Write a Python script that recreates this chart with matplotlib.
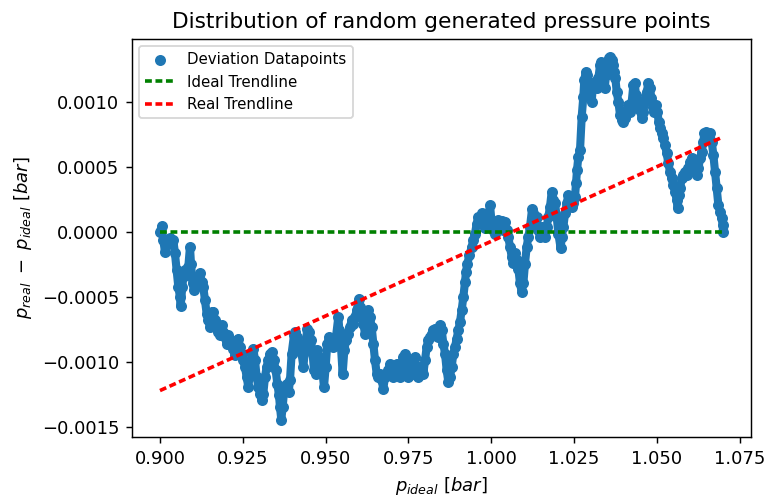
import numpy as np
import matplotlib
matplotlib.use("Agg")
import matplotlib.pyplot as plt

# values (deviation in units of 1e-4 bar)
p_ideal = [
    0.90000, 0.90050, 0.90101, 0.90151, 0.90221, 0.90302, 0.90352, 0.90403, 0.90453, 0.90503,
    0.90554, 0.90604, 0.90624, 0.90674, 0.90705, 0.90755, 0.90805, 0.90856, 0.90906, 0.90936,
    0.90986, 0.91027, 0.91087, 0.91157, 0.91208, 0.91258, 0.91308, 0.91359, 0.91409, 0.91459,
    0.91510, 0.91560, 0.91610, 0.91661, 0.91711, 0.91761, 0.91812, 0.91862, 0.91912, 0.91963,
    0.92013, 0.92063, 0.92113, 0.92164, 0.92214, 0.92264, 0.92315, 0.92365, 0.92415, 0.92466,
    0.92516, 0.92566, 0.92617, 0.92667, 0.92717, 0.92768, 0.92818, 0.92868, 0.92919, 0.92969,
    0.93019, 0.93070, 0.93120, 0.93170, 0.93221, 0.93271, 0.93321, 0.93392, 0.93442, 0.93492,
    0.93543, 0.93593, 0.93623, 0.93663, 0.93704, 0.93744, 0.93794, 0.93845, 0.93885,
    0.93925, 0.93975, 0.94046, 0.94076, 0.94127, 0.94207, 0.94277, 0.94328, 0.94378, 0.94448,
    0.94509, 0.94559, 0.94609, 0.94650, 0.94710, 0.94750, 0.94801, 0.94851, 0.94901, 0.94952,
    0.95002, 0.95052, 0.95103, 0.95153, 0.95213, 0.95264, 0.95314, 0.95385, 0.95415, 0.95465,
    0.95515, 0.95566, 0.95616, 0.95666, 0.95737, 0.95787, 0.95837, 0.95888, 0.95938, 0.96008,
    0.96039, 0.96089, 0.96139, 0.96190, 0.96240, 0.96290, 0.96341, 0.96391, 0.96441, 0.96492,
    0.96542, 0.96592, 0.96643, 0.96693, 0.96743, 0.96794, 0.96844, 0.96894, 0.96945, 0.96995,
    0.97045, 0.97096, 0.97146, 0.97196, 0.97247, 0.97297, 0.97347, 0.97397, 0.97448, 0.97498,
    0.97548, 0.97599, 0.97649, 0.97699, 0.97750, 0.97800, 0.97850, 0.97901, 0.97951, 0.98001,
    0.98052, 0.98102, 0.98152, 0.98203, 0.98253, 0.98303, 0.98354, 0.98404, 0.98454, 0.98505,
    0.98555, 0.98605, 0.98656, 0.98706,
    0.98756, 0.98806, 0.98857, 0.98907, 0.98958, 0.99008, 0.99058, 0.99108, 0.99159, 0.99209,
    0.99239, 0.99280, 0.99340, 0.99411, 0.99461, 0.99511, 0.99562, 0.99612, 0.99662, 0.99713,
    0.99763, 0.99813, 0.99863, 0.99914, 0.99964, 1.00014, 1.00064, 1.00115, 1.00165, 1.00215,
    1.00266, 1.00316, 1.00366, 1.00417, 1.00467, 1.00517, 1.00568, 1.00618, 1.00668, 1.00719,
    1.00769, 1.00819, 1.00870, 1.00920, 1.00970, 1.01020, 1.01071, 1.01121, 1.01171, 1.01232,
    1.01272, 1.01322, 1.01373, 1.01423, 1.01473, 1.01524, 1.01574, 1.01624, 1.01675, 1.01725,
    1.01775, 1.01826, 1.01876, 1.01926, 1.01977, 1.02027, 1.02097, 1.02128, 1.02178, 1.02228,
    1.02278, 1.02329, 1.02379, 1.02429, 1.02480, 1.02530, 1.02560, 1.02590, 1.02631, 1.02681,
    1.02732, 1.02781, 1.02811, 1.02853,
    1.02903, 1.02933, 1.02983, 1.03033, 1.03064, 1.03104, 1.03144, 1.03185, 1.03235, 1.03285,
    1.03315, 1.03346, 1.03386, 1.03426, 1.03466, 1.03507, 1.03547, 1.03587, 1.03638, 1.03688,
    1.03718, 1.03748, 1.03789, 1.03839, 1.03889, 1.03940, 1.03970, 1.04010, 1.04050, 1.04091,
    1.04141, 1.04191, 1.04242, 1.04292, 1.04332, 1.04372, 1.04412, 1.04453, 1.04493, 1.04543,
    1.04594, 1.04644, 1.04694, 1.04745, 1.04795, 1.04835, 1.04875, 1.04916, 1.04976, 1.05016,
    1.05056, 1.05097, 1.05147, 1.05197, 1.05247, 1.05298, 1.05348, 1.05398, 1.05449, 1.05499,
    1.05549, 1.05600, 1.05630, 1.05660, 1.05700, 1.05751, 1.05801, 1.05851, 1.05902, 1.05952,
    1.06002, 1.06053, 1.06103, 1.06153, 1.06204, 1.06254, 1.06304, 1.06354, 1.06405, 1.06435,
    1.06475, 1.06506, 1.06556, 1.06606, 1.06657, 1.06707, 1.06757, 1.06808, 1.06858, 1.06908,
    1.06959, 1.06990, 1.07000,
]
deviation_e4 = [
    0.00, 0.44, -0.64, -1.54, -0.64, -0.51, -0.90, -0.64, -1.66, -2.95,
    -4.23, -5.00, -5.72, -4.23, -3.46, -2.95, -3.34, -2.69, -1.15, -2.44,
    -3.97, -4.49, -3.72, -3.46, -3.15, -3.85, -4.23, -5.25, -6.28, -6.79,
    -7.31, -6.15, -6.15, -6.79, -7.31, -7.69, -7.95, -7.18, -7.69, -8.08,
    -8.59, -7.95, -8.33, -8.72, -8.97, -9.49, -8.59, -8.21, -8.85, -9.36,
    -9.87, -10.38, -11.15, -11.92, -10.90, -9.36, -8.97, -9.87, -11.15, -11.92,
    -12.43, -12.95, -12.43, -11.15, -10.38, -9.87, -9.36, -9.23, -9.87, -10.64,
    -11.66, -12.56, -13.46, -14.43, -13.46, -12.31, -11.79, -11.66, -12.31,
    -11.41, -9.36, -7.95, -7.69, -8.07, -8.84, -9.36, -10.38, -9.10, -7.43,
    -7.69, -8.33, -9.36, -10.64, -10.90, -9.10, -9.61, -10.13, -10.64, -11.92,
    -10.38, -8.59, -8.07, -8.46, -8.84, -8.59, -8.07, -6.54, -7.56, -8.84,
    -10.90, -9.10, -8.33, -7.82, -7.31, -6.79, -7.05, -6.54, -6.02, -5.13,
    -5.77, -6.54, -7.05, -7.82, -6.79, -6.02, -6.54, -7.31, -8.59, -9.87,
    -10.90, -11.15, -10.90, -11.41, -12.05, -11.15, -10.90, -10.64, -10.13, -10.38,
    -11.15, -10.38, -10.13, -10.64, -11.15, -10.38, -9.61, -9.36, -10.38, -11.15,
    -10.64, -10.90, -9.87, -9.61, -10.64, -11.15, -10.38, -10.64, -10.90, -9.87,
    -8.84, -8.33, -8.07, -7.82, -7.56, -7.43, -7.82, -8.07, -7.18, -7.56,
    -8.59, -9.36, -10.64, -11.54,
    -11.15, -10.38, -9.36, -8.85, -8.20, -7.56, -6.92, -6.02, -5.00, -3.85,
    -3.08, -2.44, -1.80, -1.15, -0.64, -0.13, 0.64, 1.16, 0.90, 1.41,
    1.16, 0.26, 0.77, 1.16, 2.05, 0.64, 0.13, -0.13, 0.51, 0.90,
    0.64, 0.84, 0.13, 0.77, 0.13, -0.43, -1.15, -1.92, -2.43, -1.66,
    -2.18, -2.82, -3.97, -4.61, -3.97, -2.44, -1.15, -0.38, 0.38, 1.72,
    1.41, 0.59, 1.16, 0.13, -0.38, 0.38, -0.13, -0.38, 0.38, 1.16,
    1.93, 3.08, 2.44, 2.18, 1.16, -0.13, -1.28, -0.38, 0.38, 1.41,
    2.18, 2.82, 2.44, 1.93, 2.18, 2.69, 3.72, 4.74, 5.77, 6.28,
    8.85, 10.38, 11.67, 12.31,
    12.05, 11.28, 10.77, 10.00, 11.03, 11.28, 11.54, 11.03, 11.80, 12.82,
    13.08, 12.31, 11.80, 11.03, 12.05, 12.57, 13.34, 13.46, 13.21, 12.82,
    12.31, 11.80, 10.77, 10.00, 8.98, 8.59, 8.46, 9.23, 8.72, 9.36,
    9.75, 9.23, 10.00, 11.28, 11.41, 10.51, 9.75, 10.00, 9.36, 8.72,
    9.23, 10.13, 10.77, 11.41, 11.03, 10.26, 9.62, 9.23, 9.75, 9.23,
    8.46, 7.95, 7.57, 7.18, 6.67, 6.03, 5.26, 4.62, 4.11, 3.59,
    3.08, 2.44, 1.80, 2.82, 3.34, 4.11, 4.36, 4.62, 4.36, 4.87,
    5.39, 5.64, 5.13, 4.62, 4.36, 4.87, 5.64, 6.16, 6.93, 7.57,
    7.69, 7.18, 7.44, 7.57, 6.93, 5.90, 4.62, 3.34, 2.05, 1.54,
    1.03, 0.51, 0.00,
]

# trendlines (end points)
trend_x = [0.900, 1.070]
ideal_y = [0.0, 0.0]
real_y = [-0.00122, 0.00073]

x = np.array(p_ideal)
y = np.array(deviation_e4) * 1e-4

plt.rcParams['lines.scale_dashes'] = False
fig = plt.figure(figsize=(769 / 130, 503 / 130), dpi=130)
ax = fig.add_axes([0.1714, 0.1304, 0.8055, 0.7928])

ax.plot(x, y, color='#1f77b4', lw=4.5, solid_capstyle='round', solid_joinstyle='round')
ax.scatter(x, y, s=26, color='#1f77b4', label='Deviation Datapoints')
ax.plot(trend_x, ideal_y, color='green', lw=2, linestyle=(0, (3.8, 2.0)), label='Ideal Trendline')
ax.plot(trend_x, real_y, color='red', lw=2, linestyle=(0, (3.8, 2.0)), label='Real Trendline')

ax.set_title('Distribution of random generated pressure points')
ax.set_xlabel(r'$p_{ideal}\ [bar]$')
ax.set_ylabel(r'$p_{real}\ -\ p_{ideal}\ [bar]$')
ax.set_xticks([0.900, 0.925, 0.950, 0.975, 1.000, 1.025, 1.050, 1.075])
ax.set_yticks([-0.0015, -0.0010, -0.0005, 0.0, 0.0005, 0.0010])
ax.set_xlim(0.8915, 1.0785)
ax.set_ylim(-0.00158, 0.001485)
ax.legend(loc='upper left', fontsize='small')

fig.savefig('out.png', dpi=130)
